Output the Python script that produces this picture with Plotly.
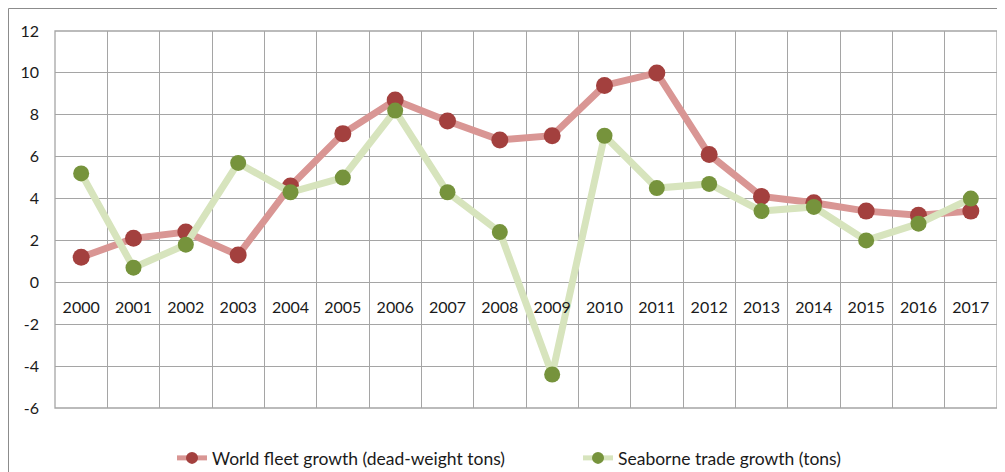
import plotly.graph_objects as go

years = ["2000", "2001", "2002", "2003", "2004", "2005", "2006", "2007", "2008",
         "2009", "2010", "2011", "2012", "2013", "2014", "2015", "2016", "2017"]
fleet_growth = [1.2, 2.1, 2.4, 1.3, 4.6, 7.1, 8.7, 7.7, 6.8,
                7.0, 9.4, 10.0, 6.1, 4.1, 3.8, 3.4, 3.2, 3.4]
trade_growth = [5.2, 0.7, 1.8, 5.7, 4.3, 5.0, 8.2, 4.3, 2.4,
                -4.4, 7.0, 4.5, 4.7, 3.4, 3.6, 2.0, 2.8, 4.0]
y_ticks = [-6, -4, -2, 0, 2, 4, 6, 8, 10, 12]
y_tick_text = ["-6", "-4", "-2", "0", "2", "4", "6", "8", "10", "12"]

FONT = "Lato, 'Open Sans', sans-serif"
GRID = "#A5A5A5"

W, H = 997, 464          # page body has an 8px margin
ML, MR, MT, MB = 47, 8, 23, 64
PW, PH = W - ML - MR, H - MT - MB

fig = go.Figure()
fig.add_trace(go.Scatter(
    x=years, y=fleet_growth, mode="lines+markers",
    name="World fleet growth (dead-weight tons)",
    line=dict(color="#D99694", width=7),
    marker=dict(color="#A3403E", size=17),
))
fig.add_trace(go.Scatter(
    x=years, y=trade_growth, mode="lines+markers",
    name="Seaborne trade growth (tons)",
    line=dict(color="#D7E4BD", width=7),
    marker=dict(color="#76933C", size=16),
))

fig.update_layout(
    width=W, height=H,
    margin=dict(l=ML, r=MR, t=MT, b=MB),
    paper_bgcolor="white", plot_bgcolor="white",
    font=dict(family=FONT, size=16, color="#1a1a1a"),
    xaxis=dict(
        type="category", tickson="boundaries", showgrid=True,
        range=[-0.5, len(years) - 0.5],
        gridcolor=GRID, gridwidth=1.3, ticks="", showline=False,
        zeroline=False, anchor="free", position=1/3, automargin=False,
        ticklabelstandoff=14, tickfont=dict(size=16),
    ),
    yaxis=dict(
        range=[-6, 12], tickvals=y_ticks, ticktext=y_tick_text, showgrid=True,
        gridcolor=GRID, gridwidth=1.3, zeroline=False, showline=False,
        automargin=False,
        ticks="", ticklabelstandoff=15, tickfont=dict(size=16),
    ),
    legend=dict(
        orientation="h", xref="container", yref="container",
        x=164 / W, xanchor="left",
        y=(H - 450) / H, yanchor="middle",
        entrywidth=361, entrywidthmode="pixels", itemsizing="constant",
        font=dict(size=17.5), bgcolor="rgba(0,0,0,0)",
    ),
    shapes=[
        dict(type="rect", xref="paper", yref="paper", x0=0, x1=1, y0=0, y1=1,
             line=dict(color=GRID, width=1.3), layer="below"),
        dict(type="rect", xref="paper", yref="paper",
             x0=(0.5 - ML) / PW, x1=1.2, y0=-0.5, y1=1 + (MT - 0.5) / PH,
             line=dict(color="#8C8C8C", width=1), layer="below"),
    ],
)

fig.write_html("out.html")
